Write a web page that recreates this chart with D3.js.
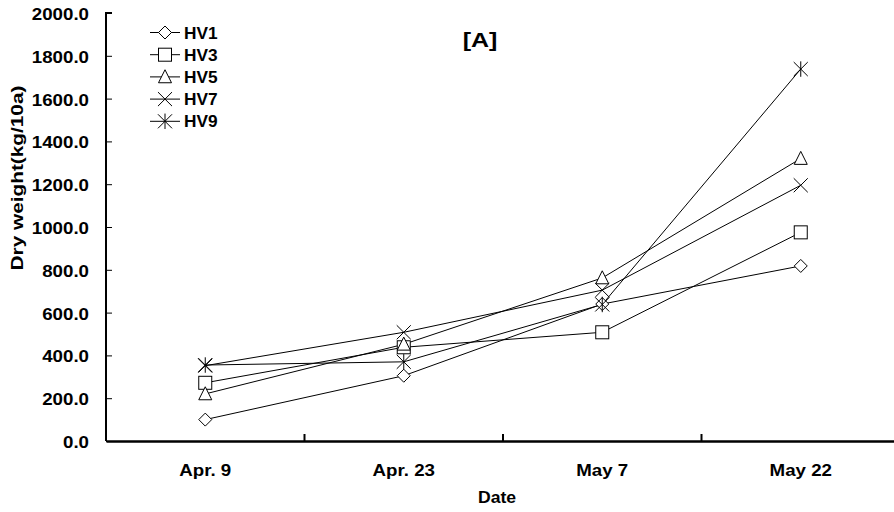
<!DOCTYPE html>
<html>
<head>
<meta charset="utf-8">
<script src="https://cdn.jsdelivr.net/npm/d3@7"></script>
<style>
  body { margin: 0; background: #fff; }
  text { font-family: "Liberation Sans", Arial, sans-serif; font-weight: bold; }
</style>
</head>
<body>
<div id="chart"></div>
<script>
const dates = ['Apr. 9', 'Apr. 23', 'May 7', 'May 22'];
const seriesNames = ['HV1', 'HV3', 'HV5', 'HV7', 'HV9'];
const hv1 = [100, 305, 640, 818];
const hv3 = [272, 438, 508, 975];
const hv5 = [220, 452, 762, 1320];
const hv7 = [352, 508, 705, 1195];
const hv9 = [355, 370, 638, 1738];
const yTicks = [0, 200, 400, 600, 800, 1000, 1200, 1400, 1600, 1800, 2000];

const series = [hv1, hv3, hv5, hv7, hv9];
const symbols = ['diamond', 'square', 'triangle', 'x', 'asterisk'];

const width = 894, height = 512;
const margin = { top: 13, right: -6, bottom: 71, left: 106 };
const fs = 16;

const svg = d3.select('#chart').append('svg')
  .attr('width', width)
  .attr('height', height);

const x = d3.scaleBand()
  .domain(dates)
  .range([margin.left, width - margin.right]);

const y = d3.scaleLinear()
  .domain([0, 2000])
  .range([height - margin.bottom, margin.top]);

const cx = d => x(d) + x.bandwidth() / 2;

function marker(g, type, s) {
  g.attr('fill', 'none').attr('stroke', '#000').attr('stroke-width', 1);
  if (type === 'diamond') {
    g.append('path').attr('d', `M0,${-s}L${s},0L0,${s}L${-s},0Z`).attr('fill', '#fff');
  } else if (type === 'square') {
    g.append('rect').attr('x', -s).attr('y', -s)
      .attr('width', s * 2).attr('height', s * 2).attr('fill', '#fff');
  } else if (type === 'triangle') {
    g.append('path').attr('d', `M0,${-s * 1.1}L${s},${s * 0.9}L${-s},${s * 0.9}Z`).attr('fill', '#fff');
  } else if (type === 'x') {
    const t = s * 1.08;
    g.append('path').attr('d', `M${-t},${-t}L${t},${t}M${t},${-t}L${-t},${t}`);
  } else {
    const t = s * 1.08;
    g.append('path').attr('d', `M${-t},${-t}L${t},${t}M${t},${-t}L${-t},${t}M0,${-t * 1.1}L0,${t * 1.1}`);
  }
}

// axes
const yAxis = svg.append('g')
  .attr('transform', `translate(${margin.left},0)`)
  .call(d3.axisRight(y).tickValues(yTicks).tickSize(6).tickFormat(''));
yAxis.select('.domain').attr('stroke-width', 2).attr('d', `M6,${y(2000)}H0V${y(0)}`);

svg.append('g')
  .selectAll('text')
  .data(yTicks)
  .join('text')
    .attr('transform', d => `translate(${margin.left - 17},${y(d) + 7}) scale(1.17,1)`)
    .attr('text-anchor', 'end')
    .attr('font-size', fs)
    .text(d => d.toFixed(1));

const xAxis = svg.append('g')
  .attr('transform', `translate(0,${y(0)})`)
  .call(d3.axisBottom(x).tickSize(0).tickPadding(24));
xAxis.select('.domain').attr('stroke-width', 2.5);
xAxis.selectAll('text')
  .attr('transform', 'scale(1.17,1)')
  .attr('font-size', fs)
  .attr('font-family', '"Liberation Sans", Arial, sans-serif')
  .attr('font-weight', 'bold');
xAxis.selectAll('.bound')
  .data(dates.slice(1))
  .join('line')
    .attr('class', 'bound')
    .attr('x1', d => x(d)).attr('x2', d => x(d))
    .attr('y1', 0).attr('y2', -7)
    .attr('stroke', '#000').attr('stroke-width', 2);

svg.append('text')
  .attr('transform', 'translate(497,503) scale(1.1,1)')
  .attr('text-anchor', 'middle')
  .attr('font-size', fs)
  .text('Date');

svg.append('text')
  .attr('transform', 'translate(23,178) rotate(-90) scale(1.3,1)')
  .attr('text-anchor', 'middle')
  .attr('font-size', fs)
  .text('Dry weight(kg/10a)');

svg.append('text')
  .attr('transform', 'translate(480,47) scale(1.25,1)')
  .attr('text-anchor', 'middle')
  .attr('font-size', 20)
  .text('[A]');

// lines and markers
const line = d3.line().x((d, i) => cx(dates[i])).y(d => y(d));
series.forEach(vals => {
  svg.append('path')
    .datum(vals)
    .attr('d', line)
    .attr('fill', 'none')
    .attr('stroke', '#000')
    .attr('stroke-width', 1);
});
series.forEach((vals, k) => {
  vals.forEach((v, i) => {
    const g = svg.append('g').attr('transform', `translate(${cx(dates[i])},${y(v)})`);
    marker(g, symbols[k], 6.5);
  });
});

// legend
const legend = svg.append('g');
seriesNames.forEach((name, k) => {
  const ly = 32.5 + k * 22.2;
  legend.append('line')
    .attr('x1', 150).attr('x2', 180)
    .attr('y1', ly).attr('y2', ly)
    .attr('stroke', '#000');
  marker(legend.append('g').attr('transform', `translate(165,${ly})`), symbols[k], 6.5);
  legend.append('text')
    .attr('transform', `translate(184,${ly + 6}) scale(1.08,1)`)
    .attr('font-size', fs)
    .text(name);
});
</script>
</body>
</html>
